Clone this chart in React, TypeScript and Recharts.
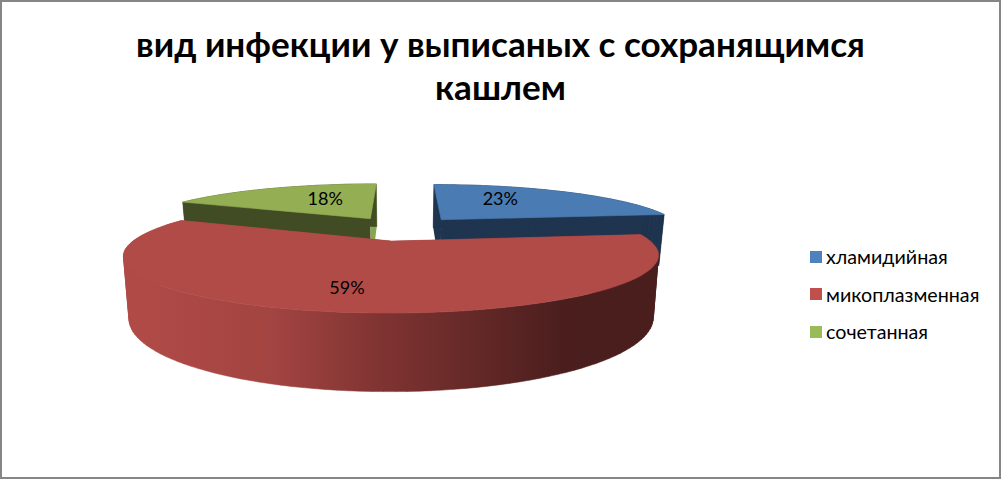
import React from "react";
import { PieChart, Pie, Legend } from "recharts";

const TITLE = ["вид инфекции у выписаных с сохранящимся", "кашлем"];
const categories = ["хламидийная", "микоплазменная", "сочетанная"];
const shares = [23, 59, 18];

const legendColors = ["#4F81BD", "#C0504D", "#9BBB59"];
const topColors = ["#4A7BB2", "#B14B48", "#93AE53"];
const sideColors = ["#1F344F", "url(#redSide)", "#414C24"];
const cutColors = ["#1F344F", "#7A3230", "#8AA64D"];

const data = categories.map((name, i) => ({ name, value: shares[i], fill: legendColors[i] }));

// 3d look: tilt + perspective, the pie itself only gives us the angles
const EXPLODE = 62;
const PERSP = 0.24;
const TILT = 0.1946;
const DEPTH = 55;
const RAD = Math.PI / 180;
const FONT = "Lato, 'Open Sans', sans-serif";

function project(cx: number, cy: number, R: number, x: number, v: number, z = 0) {
  const s = 1 / (1 + (PERSP * v) / R);
  const narrow = 1 - (0.02 * z) / DEPTH;
  return [cx + x * s * narrow, cy - TILT * v * s + z * s];
}

function slicePoints(p: any, z = 0) {
  const out: number[][] = [];
  const ox = EXPLODE * Math.cos(p.midAngle * RAD);
  const ov = EXPLODE * Math.sin(p.midAngle * RAD);
  const step = p.endAngle < p.startAngle ? -2 : 2;
  const n = Math.ceil(Math.abs(p.endAngle - p.startAngle) / 2);
  for (let i = 0; i <= n; i++) {
    const a = i === n ? p.endAngle : p.startAngle + i * step;
    const x = ox + p.outerRadius * Math.cos(a * RAD);
    const v = ov + p.outerRadius * Math.sin(a * RAD);
    out.push(project(p.cx, p.cy, p.outerRadius, x, v, z));
  }
  return out;
}

const toPath = (pts: number[][]) => "M" + pts.map((q) => q[0].toFixed(1) + "," + q[1].toFixed(1)).join("L") + "Z";

// one quad per step, all turned the same way, or the band cancels itself at the silhouette
function wallPath(top: number[][], low: number[][]) {
  let d = "";
  for (let i = 0; i < top.length - 1; i++) {
    const quad = [top[i], top[i + 1], low[i + 1], low[i]];
    let area = 0;
    quad.forEach((q, k) => {
      const r = quad[(k + 1) % 4];
      area += q[0] * r[1] - r[0] * q[1];
    });
    d += toPath(area < 0 ? quad.reverse() : quad);
  }
  return d;
}

function Slice3D(p: any) {
  const i = p.index;
  const rim = slicePoints(p);
  const rimLow = slicePoints(p, DEPTH);
  const ox = EXPLODE * Math.cos(p.midAngle * RAD);
  const ov = EXPLODE * Math.sin(p.midAngle * RAD);
  const apex = project(p.cx, p.cy, p.outerRadius, ox, ov);
  const apexLow = project(p.cx, p.cy, p.outerRadius, ox, ov, DEPTH);
  const last = rim.length - 1;
  // the cut wall looking at us is the dark one, green has it the other way round
  const startColor = i === 2 ? sideColors[i] : cutColors[i];
  const endColor = i === 2 ? cutColors[i] : sideColors[i];
  return (
    <g>
      {i === 1 && (
        <defs>
          <linearGradient id="redSide" gradientUnits="userSpaceOnUse" x1="150" x2="565" y1="0" y2="0">
            <stop offset="0" stopColor="#AF4A47" />
            <stop offset="0.3" stopColor="#A24441" />
            <stop offset="0.55" stopColor="#803432" />
            <stop offset="1" stopColor="#4A1E1D" />
          </linearGradient>
        </defs>
      )}
      <path d={toPath([rim[0], apex, apexLow, rimLow[0]])} fill={startColor} />
      <path d={toPath([rim[last], apex, apexLow, rimLow[last]])} fill={endColor} />
      <path d={wallPath(rim, rimLow)} fill={sideColors[i]} stroke={sideColors[i]} strokeWidth={0.5} />
      <path d={toPath([apex, ...rim])} fill={topColors[i]} stroke={topColors[i]} strokeWidth={0.6} />
    </g>
  );
}

// red goes over the other two, so it is painted in a second pass
const backShape = (p: any) => (p.index === 1 ? <g /> : <Slice3D {...p} />);
const frontShape = (p: any) => (p.index === 1 ? <Slice3D {...p} /> : <g />);

const labelFrac = [0.5, 0.62, 0.62];
const labelNudgeX = [-8.5, -13, 20];
const labelNudgeY = [-7, 7, -1];

function pctLabel(p: any) {
  const i = p.index;
  const t = labelFrac[i];
  const x = (EXPLODE + t * p.outerRadius) * Math.cos(p.midAngle * RAD);
  const v = (EXPLODE + t * p.outerRadius) * Math.sin(p.midAngle * RAD);
  const q = project(p.cx, p.cy, p.outerRadius, x, v);
  return (
    <text x={q[0] + labelNudgeX[i]} y={q[1] + labelNudgeY[i]} textAnchor="middle" dominantBaseline="central" fontSize={18} fontFamily={FONT} fill="#000">
      {Math.round(p.percent * 100)}%
    </text>
  );
}
const backLabel = (p: any) => (p.index === 1 ? <g /> : pctLabel(p));
const frontLabel = (p: any) => (p.index === 1 ? pctLabel(p) : <g />);

function LegendBox({ payload }: any) {
  // both pies report their items, keep one of each in data order
  const items = categories.map((c) => (payload || []).find((e: any) => e.value === c)).filter(Boolean);
  return (
    <div style={{ fontFamily: FONT, fontSize: 19.7, color: "#000" }}>
      {items.map((e: any) => (
        <div key={e.value} style={{ height: 37.5, display: "flex", alignItems: "center" }}>
          <span style={{ width: 12, height: 12, background: e.color, marginRight: 4 }} />
          {e.value}
        </div>
      ))}
    </div>
  );
}

export default function App() {
  return (
    <div style={{ position: "absolute", left: 0, top: 0, width: 1001, height: 479, boxSizing: "border-box", border: "2px solid #868686", background: "#fff" }}>
      <div style={{ position: "absolute", left: -2, top: 20, width: 1001, textAlign: "center", fontFamily: FONT, fontWeight: 700, fontSize: 35.1, lineHeight: "43px", color: "#000" }}>
        {TITLE.map((t) => (
          <div key={t}>{t}</div>
        ))}
      </div>
      <div style={{ position: "absolute", left: -2, top: -2 }}>
        <PieChart width={1001} height={479} margin={{ top: 0, right: 0, bottom: 0, left: 0 }}>
          <Pie data={data} dataKey="value" nameKey="name" cx={402} cy={228.4} outerRadius={243} startAngle={90} endAngle={-270} isAnimationActive={false} shape={backShape} label={backLabel} labelLine={false} />
          <Pie data={data} dataKey="value" nameKey="name" cx={402} cy={228.4} outerRadius={243} startAngle={90} endAngle={-270} isAnimationActive={false} shape={frontShape} label={frontLabel} labelLine={false} legendType="none" />
          <Legend layout="vertical" align="right" verticalAlign="top" width={185} content={LegendBox} wrapperStyle={{ left: 810, right: "auto", top: 238 }} />
        </PieChart>
      </div>
    </div>
  );
}
